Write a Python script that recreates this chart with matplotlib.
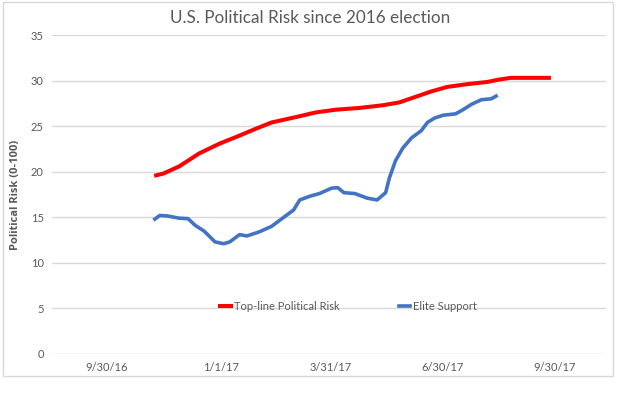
import numpy as np
import pandas as pd
import matplotlib
matplotlib.use("Agg")
import matplotlib.pyplot as plt
import matplotlib.dates as mdates
from matplotlib.patches import Rectangle

# days after 9/30/16
red_days = [40, 46, 59, 75, 92, 105, 121, 134, 154, 170, 186, 206, 225, 238,
            251, 264, 277, 293, 310, 319, 329, 349, 360]
red_vals = [19.6, 19.8, 20.6, 22.0, 23.1, 23.8, 24.7, 25.4, 26.0, 26.5, 26.8,
            27.0, 27.3, 27.6, 28.2, 28.8, 29.3, 29.6, 29.85, 30.1, 30.3, 30.3, 30.3]

blue_days = [39, 43, 49, 59, 66, 72, 79, 88, 95, 100, 108, 114, 124, 134, 141,
             152, 157, 165, 173, 183, 188, 193, 202, 212, 220, 227, 230, 235,
             241, 248, 256, 261, 267, 274, 284, 290, 297, 305, 313, 317]
blue_vals = [14.8, 15.2, 15.15, 14.9, 14.85, 14.1, 13.5, 12.3, 12.1, 12.3, 13.1,
             12.95, 13.4, 14.0, 14.7, 15.8, 16.9, 17.3, 17.6, 18.2, 18.25, 17.7,
             17.6, 17.1, 16.9, 17.7, 19.3, 21.2, 22.6, 23.7, 24.5, 25.4, 25.9,
             26.2, 26.35, 26.8, 27.4, 27.9, 28.0, 28.3]

tick_labels = ["9/30/16", "1/1/17", "3/31/17", "6/30/17", "9/30/17"]

base = pd.Timestamp("2016-09-30")
red_dates = base + pd.to_timedelta(red_days, unit="D")
blue_dates = base + pd.to_timedelta(blue_days, unit="D")
tick_dates = pd.to_datetime(tick_labels, format="%m/%d/%y")

plt.rcParams["font.family"] = ["Lato", "DejaVu Sans"]
gray = "#595959"

fig = plt.figure(figsize=(6.21, 3.94), dpi=100)
fig.patches.append(Rectangle((3 / 621, 1 - 376 / 394), 610 / 621, 374 / 394,
                             transform=fig.transFigure, fill=False,
                             edgecolor="#D9D9D9", linewidth=1))
ax = fig.add_axes([52 / 621, 1 - 354 / 394, 554 / 621, 319 / 394])

ax.plot(red_dates, red_vals, color="#FF0000", lw=2.9, label="Top-line Political Risk")
ax.plot(blue_dates, blue_vals, color="#4472C4", lw=2.6, label="Elite Support")

ax.set_ylim(0, 35)
ax.set_yticks(range(0, 36, 5))
ax.set_xlim(base - pd.Timedelta(days=44.8), base + pd.Timedelta(days=406.5))
ax.set_xticks(tick_dates)
ax.set_xticklabels(tick_labels)
ax.grid(axis="y", color="#D9D9D9", lw=1)
ax.set_axisbelow(True)
for s in ax.spines.values():
    s.set_visible(False)
ax.tick_params(length=0, labelsize=8, labelcolor=gray, pad=6)

ax.set_ylabel("Political Risk (0-100)", fontsize=8, fontweight="bold", color=gray,
              labelpad=7, family=["Open Sans", "DejaVu Sans"])
fig.text(0.5, 1 - 18 / 394, "U.S. Political Risk since 2016 election", ha="center",
         va="center", fontsize=12.3, color=gray)

ax.legend(loc="center", bbox_to_anchor=(0.535, 0.148), ncol=2, frameon=False,
          fontsize=8, labelcolor=gray, handlelength=1.0, columnspacing=5.3,
          handletextpad=0.3)

fig.savefig("out.png", dpi=100)
